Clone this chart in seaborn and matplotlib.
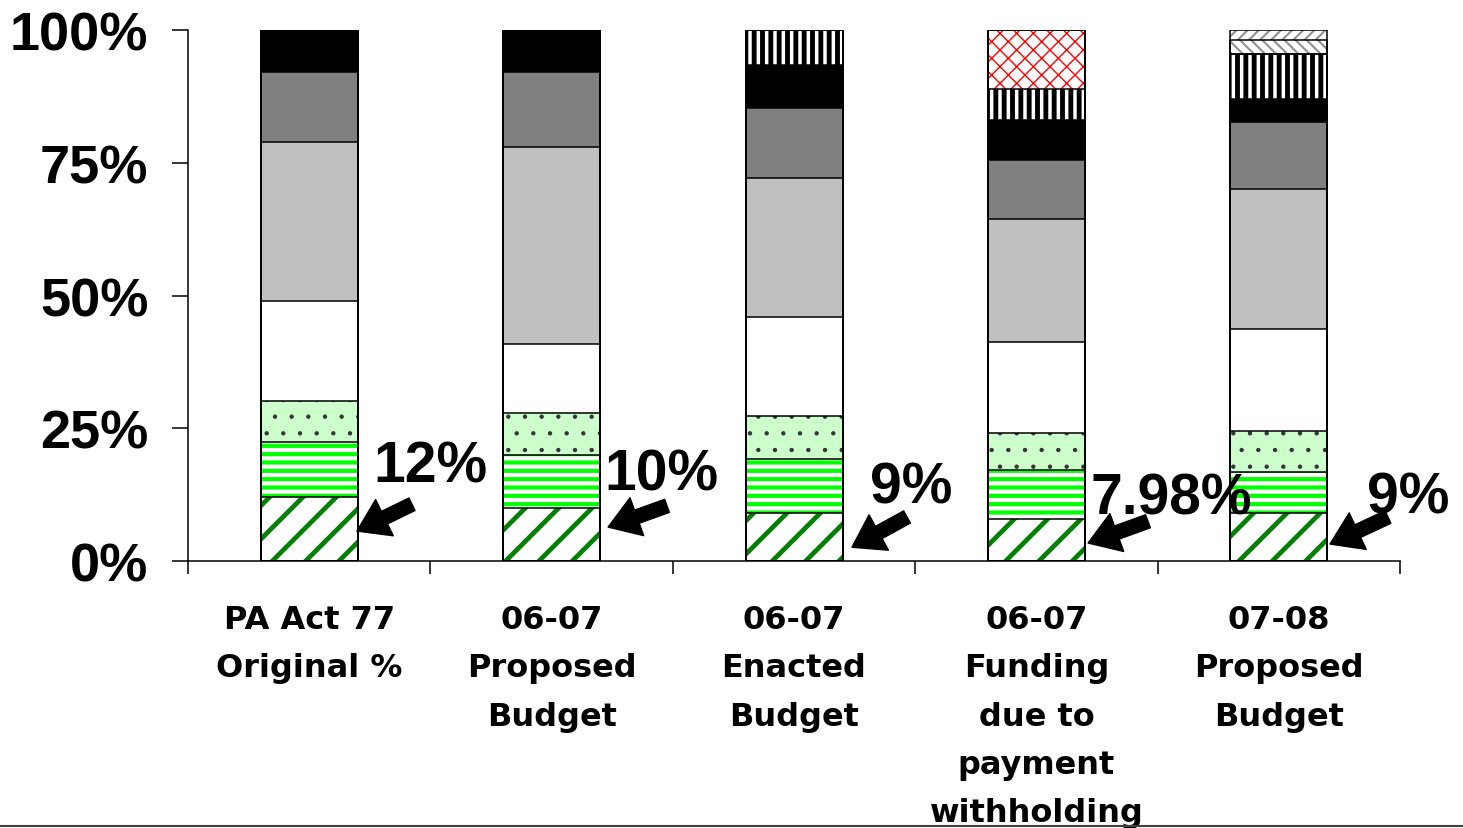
import numpy as np
import matplotlib.pyplot as plt
import seaborn as sns
from matplotlib.lines import Line2D

# ── Data ────────────────────────────────────────────────────────────────────
categories = ["PA Act 77\nOriginal %", "06-07\nProposed\nBudget", "06-07\nEnacted\nBudget",
              "06-07\nFunding\ndue to\npayment\nwithholding", "07-08\nProposed\nBudget"]

# segment shares in percent, bottom to top
seg_green_diag  = [12.0, 10.0, 9.0, 7.98, 9.0]
seg_green_lines = [10.4, 10.0, 10.2, 9.2, 7.8]
seg_green_dots  = [7.7, 7.9, 8.1, 7.0, 7.7]
seg_white       = [18.9, 13.0, 18.7, 17.0, 19.2]
seg_light_gray  = [29.9, 37.1, 26.1, 23.3, 26.4]
seg_dark_gray   = [13.2, 14.1, 13.2, 11.1, 12.6]
seg_black       = [7.9, 7.9, 8.1, 7.4, 4.3]
seg_vstripes    = [0.0, 0.0, 6.6, 6.0, 8.4]
seg_red_cross   = [0.0, 0.0, 0.0, 11.0, 0.0]
seg_gray_back   = [0.0, 0.0, 0.0, 0.0, 2.8]
seg_gray_fwd    = [0.0, 0.0, 0.0, 0.0, 1.8]

layers = [seg_green_diag, seg_green_lines, seg_green_dots, seg_white, seg_light_gray,
          seg_dark_gray, seg_black, seg_vstripes, seg_red_cross, seg_gray_back, seg_gray_fwd]

# (facecolor, hatch, hatch colour, hatch linewidth)
STYLES = [
    ("white",   "/",      "#008000", 3.4),
    ("white",   "--",     "#00FF00", 3.0),
    ("#CCFFCC", ".",      "#333333", 0.7),
    ("white",   None,     "white",   1.0),
    ("#C0C0C0", None,     "#C0C0C0", 1.0),
    ("#808080", None,     "#808080", 1.0),
    ("black",   None,     "black",   1.0),
    ("white",   "||",     "black",   3.5),
    ("white",   "xx",     "#FF0000", 1.0),
    ("white",   "\\\\\\", "#909090", 1.5),
    ("white",   "///",    "#909090", 1.5),
]

# callout labels (share of the bottom segment) and arrow placement
callout_text = [f"{v:g}%" for v in seg_green_diag]
label_x = [0.50, 1.455, 2.483, 3.555, 4.533]
label_y = [14.9, 13.5, 11.1, 8.9, 9.2]
arrow_head = [(0.197, 5.65), (1.233, 6.4), (2.239, 2.6), (3.213, 3.4), (4.211, 3.2)]
arrow_tail = [(0.424, 10.7), (1.476, 10.4), (2.466, 8.3), (3.460, 7.5), (4.450, 8.3)]

# ── Setup ───────────────────────────────────────────────────────────────────
sns.set_theme(style="ticks")
plt.rcParams["font.family"] = ["Liberation Sans", "DejaVu Sans"]
plt.rcParams["text.color"] = "black"

fig, ax = plt.subplots(figsize=(14.63, 8.29), dpi=100)
fig.subplots_adjust(left=0.1285, right=0.957, bottom=0.322, top=0.9626)

cum = np.cumsum(np.array(layers), axis=0)

# filled / hatched layers, tallest first so lower layers cover them
for k in range(len(layers) - 1, -1, -1):
    face, hatch, hcol, hlw = STYLES[k]
    n0 = len(ax.patches)
    sns.barplot(x=categories, y=cum[k], color=face, saturation=1, width=0.4,
                errorbar=None, ax=ax)
    for p in ax.patches[n0:]:
        p.set_facecolor(face)
        p.set_edgecolor(hcol)
        p.set_linewidth(0)
        p.set_hatch(hatch)
        if hasattr(p, "set_hatch_linewidth"):
            p.set_hatch_linewidth(hlw)

# black outlines
for k in range(len(layers)):
    n0 = len(ax.patches)
    sns.barplot(x=categories, y=cum[k], fill=False, width=0.4, errorbar=None, ax=ax)
    for p in ax.patches[n0:]:
        p.set_facecolor("none")
        p.set_edgecolor("black")
        p.set_linewidth(1.1)
        p.set_hatch(None)
        p.set_zorder(3)

# ── Axes ────────────────────────────────────────────────────────────────────
ax.set_xlim(-0.5, len(categories) - 0.5)
ax.set_ylim(0, 100)
ax.set_xlabel("")
ax.set_ylabel("")

yt = [0, 25, 50, 75, 100]
ax.set_yticks(yt, labels=[f"{v}%" for v in yt], fontsize=39, fontweight="bold")
ax.tick_params(axis="y", length=11.5, width=1.1, pad=17, colors="black")

ax.set_xticks(np.arange(len(categories) + 1) - 0.5)
ax.set_xticklabels([])
ax.set_xticks(np.arange(len(categories)), minor=True)
ax.set_xticklabels(categories, minor=True, fontsize=23, fontweight="bold",
                   family="DejaVu Sans", linespacing=1.72, color="black")
ax.tick_params(axis="x", which="major", length=9.5, width=1.1, colors="black")
ax.tick_params(axis="x", which="minor", length=0, pad=31, labelcolor="black")

sns.despine(ax=ax)
for s in ("left", "bottom"):
    ax.spines[s].set_color("black")
    ax.spines[s].set_linewidth(1.1)

# ── Callouts ────────────────────────────────────────────────────────────────
for txt, x, y, head, tail in zip(callout_text, label_x, label_y, arrow_head, arrow_tail):
    ax.text(x, y, txt, ha="center", va="baseline", fontsize=41, fontweight="bold",
            color="black", zorder=5)
    ax.annotate("", xy=head, xytext=tail,
                arrowprops=dict(facecolor="black", edgecolor="black", width=10,
                                headwidth=29, headlength=22, shrink=0),
                zorder=5)

fig.add_artist(Line2D([0, 1], [0.0024, 0.0024], transform=fig.transFigure,
                      color="#404040", lw=1.5))

fig.savefig("out.png", dpi=100)
